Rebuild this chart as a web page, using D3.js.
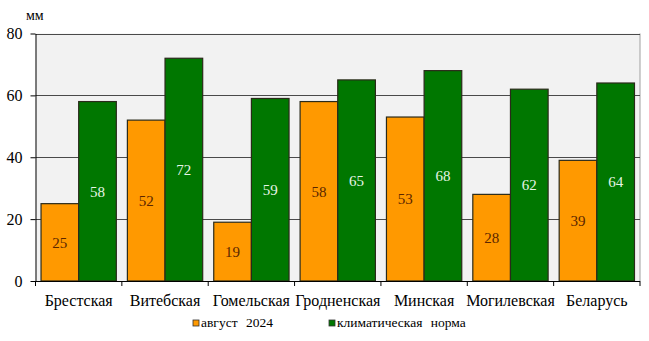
<!DOCTYPE html>
<html>
<head>
<meta charset="utf-8">
<script src="https://cdn.jsdelivr.net/npm/d3@7/dist/d3.min.js"></script>
<style>
  html, body { margin: 0; padding: 0; background: #fff; }
  svg { display: block; }
  svg text { font-family: "Liberation Serif", "Times New Roman", Tinos, serif; }
</style>
</head>
<body>
<svg id="chart" width="649" height="341" font-family="Liberation Serif"></svg>
<script>
// Осадки, мм: август 2024 и климатическая норма по областям
const regions = ["Брестская", "Витебская", "Гомельская", "Гродненская", "Минская", "Могилевская", "Беларусь"];
const august2024 = [25, 52, 19, 58, 53, 28, 39];
const climateNorm = [58, 72, 59, 65, 68, 62, 64];
const seriesNames = ["август 2024", "климатическая норма"];
const yTicks = [0, 20, 40, 60, 80];

const FONT = "Liberation Serif";
const svg = d3.select("#chart");
const plot = { left: 35.5, right: 640, top: 33.5, bottom: 281 };

const x = d3.scaleBand().domain(regions).range([plot.left, plot.right]).paddingInner(0.128).paddingOuter(0.064);
const xSub = d3.scaleBand().domain(seriesNames).range([0, x.bandwidth()]);
const y = d3.scaleLinear().domain([0, 80]).range([plot.bottom, plot.top]);

const colors = { fill: ["#ff9900", "#007700"], text: ["#5a2600", "#e6f5e6"] };

// plot area background
svg.append("rect")
  .attr("x", plot.left).attr("y", plot.top)
  .attr("width", plot.right - plot.left).attr("height", plot.bottom - plot.top)
  .attr("fill", "#f2f2f2");

// right border
svg.append("line")
  .attr("x1", plot.right).attr("x2", plot.right)
  .attr("y1", plot.top).attr("y2", plot.bottom)
  .attr("stroke", "#a0a0a0").attr("stroke-width", 1);

// horizontal gridlines
svg.append("g").selectAll("line")
  .data(yTicks.filter(d => d > 0))
  .join("line")
  .attr("x1", plot.left).attr("x2", plot.right)
  .attr("y1", d => Math.round(y(d)) + 0.5).attr("y2", d => Math.round(y(d)) + 0.5)
  .attr("stroke", "#4a4a4a").attr("stroke-width", 1);

// bars
const groups = svg.append("g").selectAll("g")
  .data(regions)
  .join("g")
  .attr("transform", d => `translate(${x(d)},0)`);

const bars = groups.selectAll("g")
  .data((d, i) => [august2024[i], climateNorm[i]].map((v, k) => ({ v, k })))
  .join("g");

bars.append("rect")
  .attr("x", d => xSub(seriesNames[d.k]))
  .attr("width", xSub.bandwidth())
  .attr("y", d => y(d.v))
  .attr("height", d => y(0) - y(d.v))
  .attr("fill", d => colors.fill[d.k])
  .attr("stroke", "#2a2a1a").attr("stroke-width", 1.2);

bars.append("text")
  .attr("x", d => xSub(seriesNames[d.k]) + xSub.bandwidth() / 2)
  .attr("y", d => (y(d.v) + y(0)) / 2)
  .attr("dy", "0.35em")
  .attr("text-anchor", "middle")
  .attr("font-family", FONT)
  .attr("font-size", 15)
  .attr("fill", d => colors.text[d.k])
  .text(d => d.v);

// y axis
const yAxis = svg.append("g")
  .attr("transform", `translate(${plot.left},0)`)
  .call(d3.axisLeft(y).tickValues(yTicks).tickSize(5).tickPadding(8).tickSizeOuter(0))
  .attr("font-family", FONT);
yAxis.select(".domain").attr("stroke", "#000");
yAxis.selectAll(".tick line").attr("stroke", "#000");
yAxis.selectAll("text").attr("font-size", 16).attr("fill", "#000").attr("font-family", FONT);

// x axis with ticks between categories
const xAxisG = svg.append("g").attr("transform", `translate(0,${plot.bottom})`);
xAxisG.append("line")
  .attr("x1", plot.left).attr("x2", plot.right)
  .attr("y1", 0.5).attr("y2", 0.5)
  .attr("stroke", "#000");
const boundaries = d3.range(regions.length + 1).map(i => plot.left + i * (plot.right - plot.left) / regions.length);
xAxisG.selectAll("line.tk")
  .data(boundaries)
  .join("line").attr("class", "tk")
  .attr("x1", d => d).attr("x2", d => d)
  .attr("y1", 0).attr("y2", 5)
  .attr("stroke", "#000");
xAxisG.selectAll("text")
  .data(regions)
  .join("text")
  .attr("x", d => x(d) + x.bandwidth() / 2)
  .attr("y", 25)
  .attr("text-anchor", "middle")
  .attr("font-family", FONT)
  .attr("font-size", 16)
  .attr("fill", "#000")
  .text(d => d);

// unit label
svg.append("text")
  .attr("x", 26).attr("y", 19.5)
  .attr("font-family", FONT)
  .attr("font-size", 14)
  .attr("fill", "#000")
  .text("мм");

// legend
const legendX = [193, 329];
const legend = svg.append("g").selectAll("g")
  .data(seriesNames)
  .join("g")
  .attr("transform", (d, i) => `translate(${legendX[i]},320)`);
legend.append("rect")
  .attr("width", 6).attr("height", 6)
  .attr("fill", (d, i) => colors.fill[i])
  .attr("stroke", "#333").attr("stroke-width", 0.8);
legend.append("text")
  .attr("x", 8).attr("y", 7)
  .attr("font-family", FONT)
  .attr("font-size", 13.5)
  .attr("word-spacing", 5)
  .attr("fill", "#000")
  .text(d => d);
</script>
</body>
</html>
